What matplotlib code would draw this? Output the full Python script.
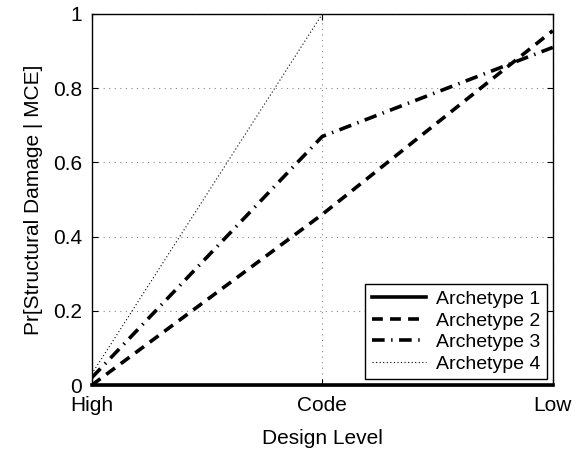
import matplotlib
matplotlib.use("Agg")
import matplotlib.pyplot as plt

plt.rcParams['font.family'] = ['Liberation Sans', 'DejaVu Sans']

levels = ["High", "Code", "Low"]
archetype_1 = [0.0, 0.0, 0.0]
archetype_2 = [0.0, 0.46, 0.955]
archetype_3 = [0.02, 0.67, 0.91]
archetype_4 = [0.03, 1.0, 1.0]
y_ticks = [0, 0.2, 0.4, 0.6, 0.8, 1.0]
y_tick_labels = ["0", "0.2", "0.4", "0.6", "0.8", "1"]

fig = plt.figure(figsize=(5.77, 4.51), dpi=100)
ax = fig.add_axes([0.159, 0.146, 0.799, 0.823])

x = list(range(len(levels)))
ax.plot(x, archetype_1, color='black', lw=2.6, ls='-', label='Archetype 1', clip_on=False, zorder=5)
ax.plot(x, archetype_2, color='black', lw=2.6, ls=(0, (3, 2)), label='Archetype 2', zorder=4)
ax.plot(x, archetype_3, color='black', lw=2.6, ls=(0, (3.5, 1.8, 0.4, 1.8)), label='Archetype 3', zorder=4)
ax.plot(x, archetype_4, color='black', lw=0.8, ls=(0, (1, 2.2)), label='Archetype 4', zorder=4)

ax.set_xlim(0, 2)
ax.set_ylim(0, 1)
ax.set_xticks(x)
ax.set_xticklabels(levels)
ax.set_yticks(y_ticks)
ax.set_yticklabels(y_tick_labels)
ax.tick_params(direction='in', labelsize=15, length=4, top=True, right=True)
ax.tick_params(axis='x', pad=8)
ax.tick_params(axis='y', pad=7)
ax.grid(True, color='#888888', ls=(0, (1, 4)), lw=0.8)
for s in ax.spines.values():
    s.set_linewidth(1.0)

ax.set_xlabel("Design Level", fontsize=15, labelpad=10)
ax.set_ylabel("Pr[Structural Damage | MCE]", fontsize=15, labelpad=7)

leg = ax.legend(loc='lower right', fontsize=14, frameon=True, fancybox=False,
                edgecolor='black', handlelength=2.8, borderaxespad=0.3,
                labelspacing=0.2, handletextpad=0.5, borderpad=0.35,
                framealpha=1)
leg.get_frame().set_linewidth(1.0)

fig.savefig("out.png", dpi=100)
